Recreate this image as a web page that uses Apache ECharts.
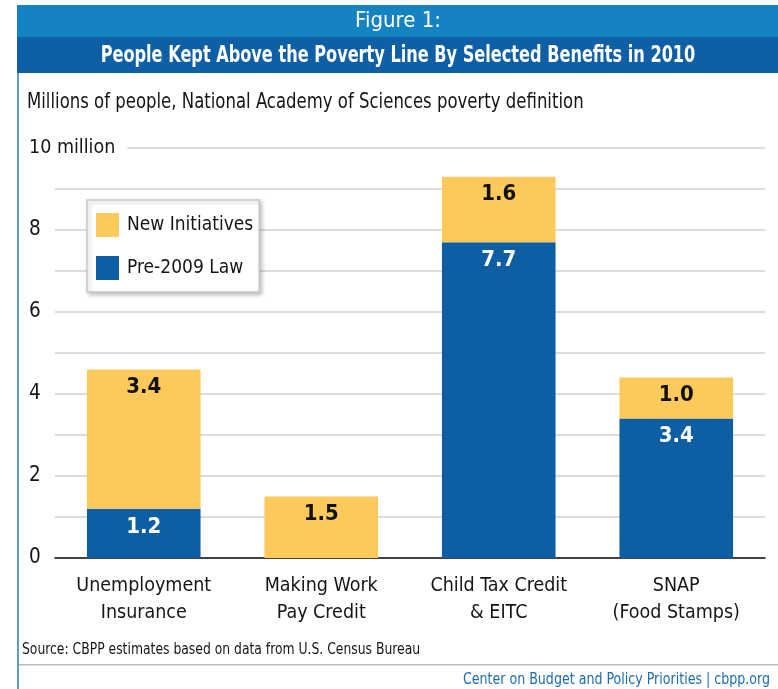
<!DOCTYPE html>
<html>
<head>
<meta charset="utf-8">
<script src="https://cdn.jsdelivr.net/npm/echarts@6/dist/echarts.min.js"></script>
<style>
html,body{margin:0;padding:0;background:#fff;}
#chart{width:778px;height:689px;}
</style>
</head>
<body>
<div id="chart"></div>
<script>
var categories = ['Unemployment\nInsurance', 'Making Work\nPay Credit', 'Child Tax Credit\n& EITC', 'SNAP\n(Food Stamps)'];
var pre2009Law = [1.2, 0, 7.7, 3.4];
var newInitiatives = [3.4, 1.5, 1.6, 1.0];
var seriesNames = ['New Initiatives', 'Pre-2009 Law'];
var yTicks = {0: '0', 2: '2', 4: '4', 6: '6', 8: '8', 10: '10 million'};

var FONT = '"DejaVu Sans Condensed", "Liberation Sans Narrow", sans-serif';
var BLUE = '#0e5ea3';
var YELLOW = '#fdc95a';
var TEXT = '#151515';

var chart = echarts.init(document.getElementById('chart'));
function fmt(p) { return p.value ? p.value.toFixed(1) : ''; }
chart.setOption({
  backgroundColor: '#fff',
  animation: false,
  grid: {left: 55, right: 13, top: 148, bottom: 131, containLabel: false},
  legend: {
    data: seriesNames,
    orient: 'vertical',
    left: 87, top: 200,
    padding: [13, 6, 12, 9],
    itemWidth: 23, itemHeight: 24, itemGap: 19,
    backgroundColor: '#fff',
    borderColor: '#c8c8c8', borderWidth: 1.5,
    shadowBlur: 4, shadowColor: 'rgba(0,0,0,0.25)', shadowOffsetX: 2, shadowOffsetY: 2,
    icon: 'rect',
    textStyle: {fontFamily: FONT, fontSize: 19, color: TEXT, padding: [0, 0, 0, 3]}
  },
  xAxis: {
    type: 'category',
    data: categories,
    axisLine: {lineStyle: {color: '#111', width: 1.5}},
    axisTick: {show: false},
    axisLabel: {interval: 0, fontFamily: FONT, fontSize: 19.5, color: TEXT, margin: 14, lineHeight: 27}
  },
  yAxis: {
    type: 'value', min: 0, max: 10, interval: 1,
    axisLine: {show: false}, axisTick: {show: false},
    splitLine: {lineStyle: {color: '#dcdcdc', width: 2}},
    axisLabel: {
      fontFamily: FONT, fontSize: 20.5, color: TEXT, margin: 26, align: 'left',
      formatter: function (v) {
        if (v === 10) return '{top|10 million}';
        return yTicks[v] !== undefined ? yTicks[v] : '';
      },
      rich: {top: {fontFamily: FONT, fontSize: 19.5, color: TEXT, backgroundColor: '#fff', padding: [4, 12, 4, 0]}}
    }
  },
  series: [
    {
      name: 'Pre-2009 Law', type: 'bar', stack: 's', data: pre2009Law,
      barWidth: '64%',
      itemStyle: {color: BLUE},
      label: {show: true, position: 'insideTop', distance: 7, formatter: fmt,
        fontFamily: FONT, fontSize: 22, fontWeight: 'bold', color: '#fff'}
    },
    {
      name: 'New Initiatives', type: 'bar', stack: 's', data: newInitiatives,
      barWidth: '64%',
      itemStyle: {color: YELLOW},
      label: {show: true, position: 'insideTop', distance: 7, formatter: fmt,
        fontFamily: FONT, fontSize: 22, fontWeight: 'bold', color: '#111'}
    }
  ],
  graphic: [
    {type: 'rect', shape: {x: 17, y: 5, width: 761, height: 32}, style: {fill: '#1582c2'}, silent: true},
    {type: 'rect', shape: {x: 17, y: 37, width: 761, height: 36}, style: {fill: '#0f5fa6'}, silent: true},
    {type: 'rect', shape: {x: 17, y: 73, width: 2, height: 616}, style: {fill: '#5b9bd0'}, silent: true},
    {type: 'text', x: 398, y: 21, style: {text: 'Figure 1:', fill: '#fff', font: '22px ' + FONT, textAlign: 'center', textVerticalAlign: 'middle'}},
    {type: 'text', x: 398, y: 56, scaleX: 0.78, style: {text: 'People Kept Above the Poverty Line By Selected Benefits in 2010', fill: '#fff', font: 'bold 23px ' + FONT, textAlign: 'center', textVerticalAlign: 'middle'}},
    {type: 'text', x: 27, y: 102, scaleX: 0.835, style: {text: 'Millions of people, National Academy of Sciences poverty definition', fill: TEXT, font: '22px ' + FONT, textVerticalAlign: 'middle'}},
    {type: 'text', x: 22, y: 650, scaleX: 0.917, style: {text: 'Source: CBPP estimates based on data from U.S. Census Bureau', fill: TEXT, font: '15px ' + FONT, textVerticalAlign: 'middle'}},
    {type: 'rect', shape: {x: 19, y: 664, width: 759, height: 1.5}, style: {fill: '#bbb'}, silent: true},
    {type: 'text', x: 770, y: 680, scaleX: 0.936, style: {text: 'Center on Budget and Policy Priorities | cbpp.org', fill: '#1a6bb0', font: '15px ' + FONT, textAlign: 'right', textVerticalAlign: 'middle'}}
  ]
});
</script>
</body>
</html>
